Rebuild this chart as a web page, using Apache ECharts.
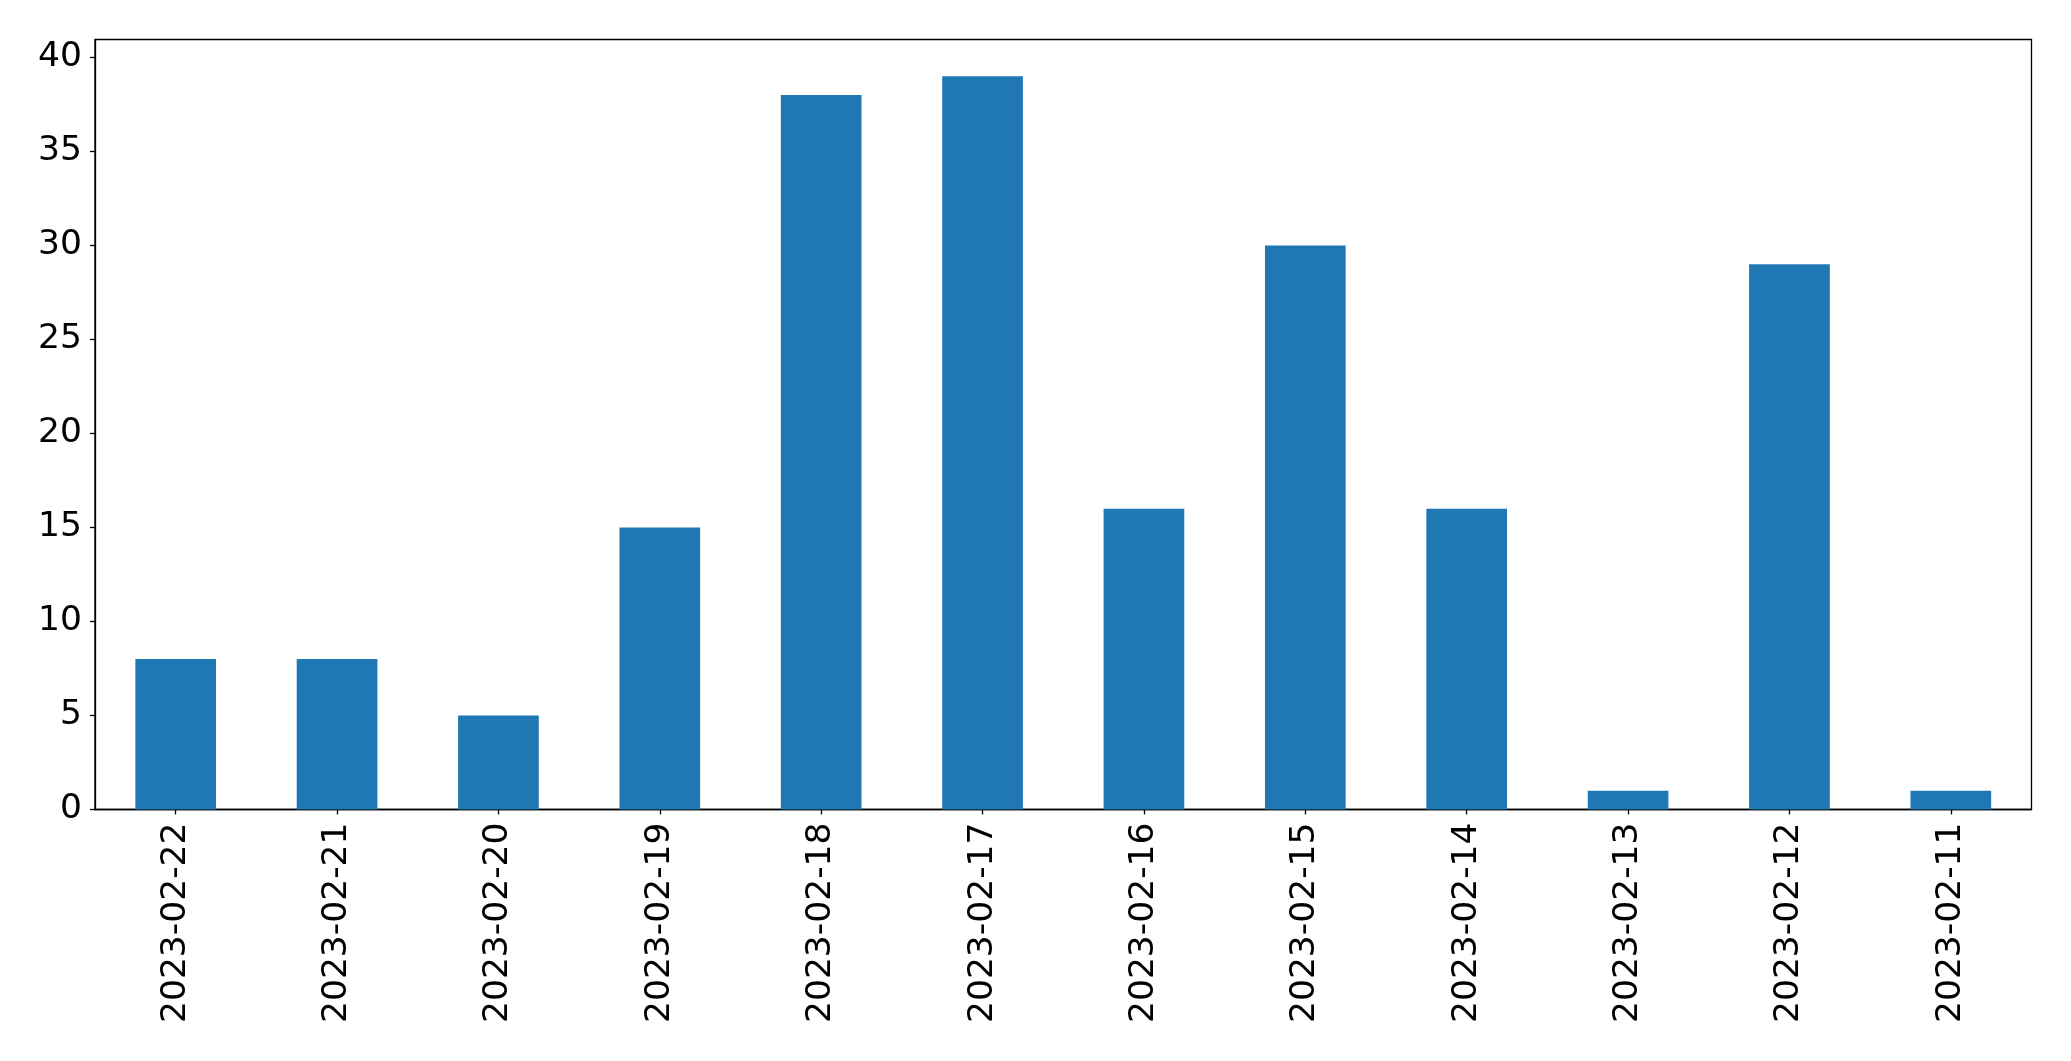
<!DOCTYPE html>
<html>
<head>
<meta charset="utf-8">
<script src="https://cdn.jsdelivr.net/npm/echarts@6/dist/echarts.min.js"></script>
<style>html,body{margin:0;padding:0;background:#fff;}#c{width:2071px;height:1061px;}</style>
</head>
<body>
<div id="c"></div>
<script>
const categories = ["2023-02-22","2023-02-21","2023-02-20","2023-02-19","2023-02-18","2023-02-17","2023-02-16","2023-02-15","2023-02-14","2023-02-13","2023-02-12","2023-02-11"];
const values = [8, 8, 5, 15, 38, 39, 16, 30, 16, 1, 29, 1];
const yTicks = [0, 5, 10, 15, 20, 25, 30, 35, 40];

const chart = echarts.init(document.getElementById('c'), null, {renderer: 'canvas'});
const font = 'DejaVu Sans';
chart.setOption({
  animation: false,
  backgroundColor: '#fff',
  grid: {left: 95, right: 39.5, top: 39.5, bottom: 251.5, show: true, borderColor: '#000', borderWidth: 1.3, backgroundColor: 'transparent'},
  xAxis: {
    type: 'category',
    data: categories,
    axisLine: {show: true, lineStyle: {color: '#000', width: 1.3}},
    axisTick: {show: true, alignWithLabel: true, length: 5, lineStyle: {color: '#000', width: 1.3}},
    axisLabel: {rotate: 90, margin: 13, color: '#000', fontFamily: font, fontSize: 34.5, interval: 0},
    splitLine: {show: false}
  },
  yAxis: {
    type: 'value',
    min: 0,
    max: 40.95,
    interval: 5,
    axisLine: {show: true, lineStyle: {color: '#000', width: 1.3}},
    axisTick: {show: true, length: 5, customValues: yTicks, lineStyle: {color: '#000', width: 1.3}},
    axisLabel: {margin: 13, color: '#000', fontFamily: font, fontSize: 34.5, customValues: yTicks, padding: [7, 0, 0, 0]},
    splitLine: {show: false}
  },
  series: [{
    type: 'bar',
    data: values,
    barWidth: '50%',
    itemStyle: {color: '#1f77b4'}
  }]
});
</script>
</body>
</html>
